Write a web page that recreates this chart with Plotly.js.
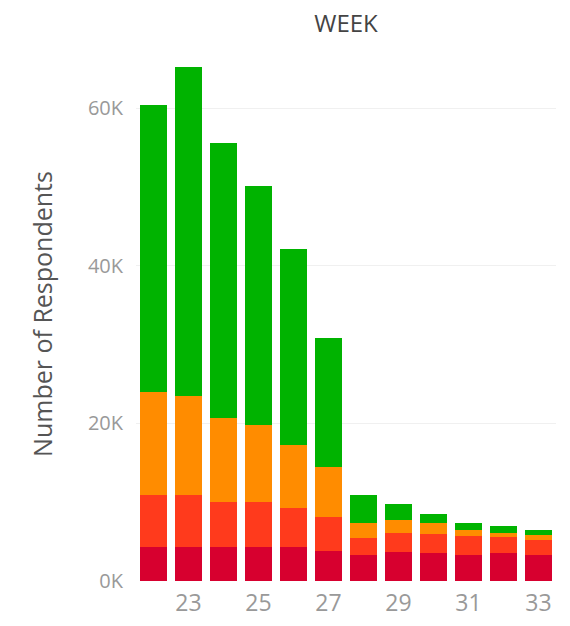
<!DOCTYPE html>
<html>
<head>
<meta charset="utf-8">
<script src="https://cdn.plot.ly/plotly-3.0.1.min.js"></script>
<style>html,body{margin:0;padding:0;background:#fff;}#chart{width:570px;height:626px;}</style>
</head>
<body>
<div id="chart"></div>
<script>
const weeks = [22, 23, 24, 25, 26, 27, 28, 29, 30, 31, 32, 33];
const crimson = [4300, 4300, 4300, 4300, 4300, 3800, 3300, 3700, 3600, 3300, 3600, 3300];
const red     = [6600, 6600, 5700, 5700, 5000, 4300, 2200, 2400, 2400, 2400, 2000, 1900];
const orange  = [13100, 12600, 10700, 9800, 8000, 6400, 1900, 1650, 1400, 800, 500, 600];
const green   = [36400, 41800, 34900, 30300, 24800, 16400, 3500, 2050, 1100, 900, 900, 700];
const yTickVals = [0, 20000, 40000, 60000];
const yTickText = ['0K', '20K', '40K', '60K'];
const xTickVals = [23, 25, 27, 29, 31, 33];

const series = [
  {name: 'Crimson', y: crimson, color: '#d7002f'},
  {name: 'Red', y: red, color: '#ff3a1c'},
  {name: 'Orange', y: orange, color: '#ff8c00'},
  {name: 'Green', y: green, color: '#00b300'}
];

const traces = series.map(s => ({
  type: 'bar',
  x: weeks,
  y: s.y,
  name: s.name,
  marker: {color: s.color, line: {width: 0}},
  hoverinfo: 'x+y'
}));

const layout = {
  width: 570,
  height: 626,
  barmode: 'stack',
  bargap: 0.23,
  showlegend: false,
  paper_bgcolor: '#ffffff',
  plot_bgcolor: '#ffffff',
  margin: {l: 136, r: 14, t: 47, b: 45},
  font: {family: 'Open Sans, sans-serif', color: '#999999'},
  title: {
    text: 'WEEK',
    font: {size: 24, color: '#444444', family: 'Open Sans, sans-serif'},
    x: 0.5, xref: 'paper', xanchor: 'center',
    y: 20, yref: 'container', yanchor: 'middle'
  },
  xaxis: {
    range: [21.5, 33.5],
    tickvals: xTickVals,
    ticks: '',
    showgrid: false,
    zeroline: false,
    showline: false,
    tickfont: {size: 23, color: '#999999'},
    ticklabelstandoff: 6
  },
  yaxis: {
    range: [0, 67800],
    tickvals: yTickVals,
    ticktext: yTickText,
    ticks: '',
    showgrid: true,
    gridcolor: '#f0f0f0',
    gridwidth: 1,
    zeroline: false,
    showline: false,
    tickfont: {size: 20, color: '#999999'},
    ticklabelstandoff: 12,
    title: {
      text: 'Number of Respondents',
      font: {size: 25, color: '#555555', family: 'Open Sans, sans-serif'},
      standoff: 28
    },
    automargin: false
  }
};

Plotly.newPlot('chart', traces, layout, {displayModeBar: false, staticPlot: true});
</script>
</body>
</html>
